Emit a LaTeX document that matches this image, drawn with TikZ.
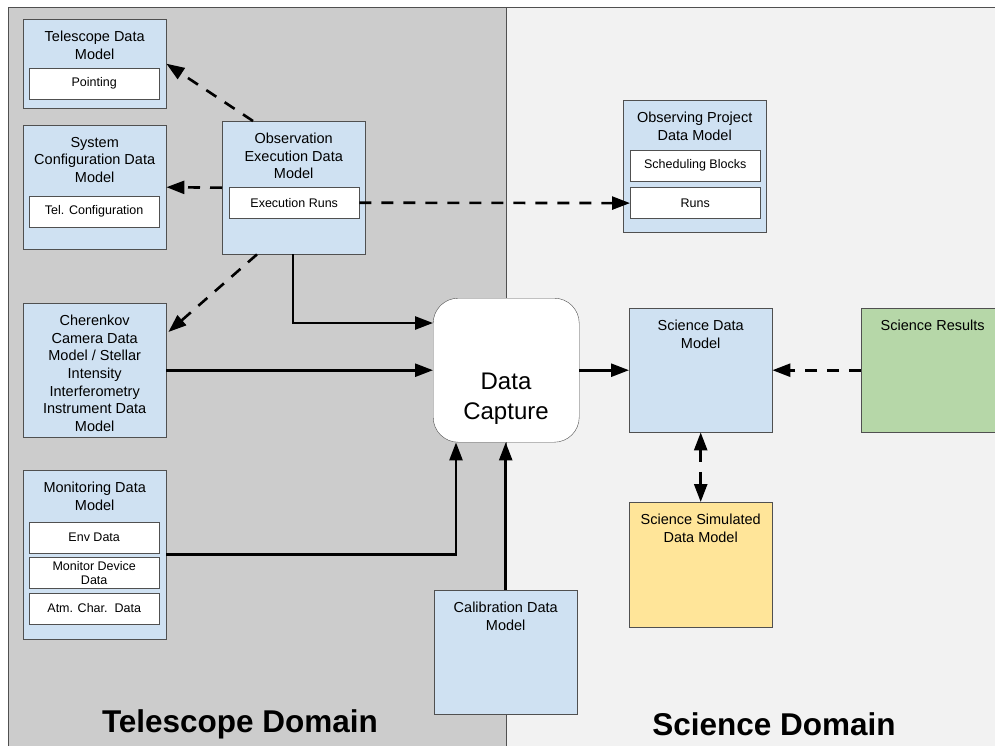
\documentclass[tikz,border=0pt]{standalone}
\usepackage{fontspec}
\setmainfont{Liberation Sans}
\usetikzlibrary{positioning, arrows.meta}
\definecolor{telescopeGray}{RGB}{204,204,204}
\definecolor{scienceGray}{RGB}{242,242,242}
\definecolor{modelBlue}{RGB}{207,225,242}
\definecolor{resultGreen}{RGB}{182,215,168}
\definecolor{simYellow}{RGB}{255,229,153}
\definecolor{edgeGray}{RGB}{80,80,80}
\tikzstyle{canvas} = [x=1pt, y=-1pt]
\tikzstyle{modelStyle} = [draw=edgeGray, anchor=north west, minimum width=143pt, inner sep=0pt]
\tikzstyle{titleText} = [font=\fontsize{14.5}{17.6}\selectfont, align=center, anchor=north, inner sep=0pt]
\tikzstyle{entryStyle} = [draw=edgeGray, fill=white, anchor=north west, minimum width=130pt, minimum height=31pt, inner sep=0pt, font=\fontsize{12.5}{15}\selectfont, align=center]
\tikzstyle{captureStyle} = [draw=edgeGray, fill=white, anchor=north west, minimum width=146pt, minimum height=144pt, rounded corners=25pt]
\tikzstyle{captureText} = [font=\fontsize{24}{30}\selectfont, align=center]
\tikzstyle{flowArrow} = [line width=2.6pt, -{Triangle[length=18pt, width=13pt]}]
\tikzstyle{dashArrow} = [flowArrow, dash pattern=on 12pt off 10pt]
\tikzstyle{dashBoth} = [dashArrow, {Triangle[length=18pt, width=13pt]}-{Triangle[length=18pt, width=13pt]}]
\tikzstyle{domainText} = [font=\fontsize{31.5}{38}\selectfont\bfseries]
\newcommand{\modelBox}[6]{\node [modelStyle, fill=#6, minimum height=#4] (#1) at (#2,#3) {}; \node [titleText, below=12pt] (#1Title) at (#1.north) {#5};}
\newcommand{\entryBox}[4]{\node [entryStyle] (#1) at (#2,#3) {#4};}
\begin{document}
\begin{tikzpicture}[canvas]
  \useasboundingbox (0,0) rectangle (995,745);
  \fill [white] (0,0) rectangle (995,745);
  \fill [telescopeGray] (8,7) rectangle (506,750);
  \fill [scienceGray] (506,7) rectangle (1000,750);
  \draw [edgeGray] (8,750) -- (8,7) -- (1000,7);
  \draw [edgeGray] (506,7) -- (506,750);

  \modelBox{teleDM}{23}{19}{89pt}{Telescope Data\\Model}{modelBlue}
  \entryBox{pointing}{29}{68}{Pointing}
  \modelBox{sysDM}{23}{125}{124pt}{System\\Configuration Data\\Model}{modelBlue}
  \entryBox{telConf}{29}{196}{Tel. Configuration}
  \modelBox{obsExec}{222}{121}{133pt}{Observation\\Execution Data\\Model}{modelBlue}
  \entryBox{execRuns}{229}{187}{Execution Runs}
  \modelBox{obsProj}{623}{100}{132pt}{Observing Project\\Data Model}{modelBlue}
  \entryBox{schedBlocks}{630}{150}{Scheduling Blocks}
  \node [entryStyle, below=6pt of schedBlocks.south west, anchor=north west] (runs) {Runs};
  \modelBox{cherenkov}{23}{303}{134pt}{Cherenkov\\Camera Data\\Model / Stellar\\Intensity\\Interferometry\\Instrument Data\\Model}{modelBlue}
  \modelBox{monitor}{23}{470}{169pt}{Monitoring Data\\Model}{modelBlue}
  \entryBox{envData}{29}{522}{Env Data}
  \node [entryStyle, font=\fontsize{12.5}{14.5}\selectfont, below=4pt of envData.south west, anchor=north west] (monDevice) {Monitor Device\\Data};
  \node [entryStyle, below=4pt of monDevice.south west, anchor=north west] (atmChar) {Atm. Char.\ \ Data};
  \modelBox{calib}{434}{590}{124pt}{Calibration Data\\Model}{modelBlue}
  \modelBox{sciDM}{629}{308}{124pt}{Science Data\\Model}{modelBlue}
  \modelBox{sciRes}{861}{308}{124pt}{Science Results}{resultGreen}
  \modelBox{sciSim}{629}{502}{125pt}{Science Simulated\\Data Model}{simYellow}

  \node [captureStyle] (dataCapture) at (433,298) {};
  \node [captureText] (captureLabel) at (506,399) {Data\\Capture};

  \draw [dashArrow] ([xshift=31pt]obsExec.north west) -- (teleDM.east);
  \draw [dashArrow] (obsExec.west) -- (sysDM.east);
  \draw [dashArrow] (execRuns.east) -- (runs.west);
  \draw [dashArrow] ([xshift=35pt]obsExec.south west) -- ([xshift=2pt, yshift=-29pt]cherenkov.north east);
  \draw [flowArrow] ([xshift=71pt]obsExec.south west) |- ([yshift=-25pt]dataCapture.north west);
  \draw [flowArrow] (cherenkov.east) -- (dataCapture.west);
  \draw [flowArrow] (monitor.east) -| ([xshift=23pt]dataCapture.south west);
  \draw [flowArrow] (calib.north) -- (calib.north |- dataCapture.south);
  \draw [flowArrow] (dataCapture.east) -- (sciDM.west);
  \draw [dashArrow] (sciRes.west) -- (sciDM.east);
  \draw [dashBoth] (sciDM.south) -- (sciSim.north);

  \node [domainText] (telescopeDomain) at (240,724) {Telescope Domain};
  \node [domainText] (scienceDomain) at (774,724) {Science Domain};
\end{tikzpicture}
\end{document}
